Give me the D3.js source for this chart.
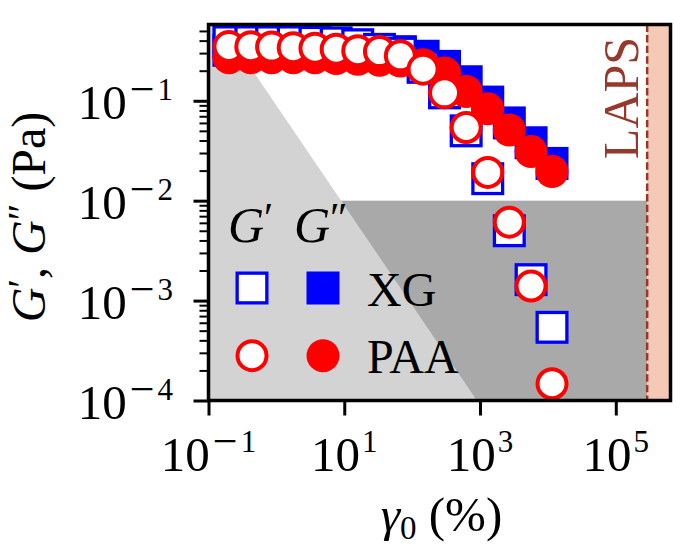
<!DOCTYPE html>
<html>
<head>
<meta charset="utf-8">
<script src="https://cdn.jsdelivr.net/npm/d3@7"></script>
<style>
  html, body { margin: 0; padding: 0; background: #fff; }
  svg { display: block; }
</style>
</head>
<body>
<svg id="chart"></svg>
<script>
// Amplitude sweep — G' and G'' against strain for XG and PAA, log-log.

// ─── Data ─────────────────────────────────────────────────────────────────────
const strain     = [0.2, 0.42, 0.85, 1.77, 3.7, 7.6, 15.8, 33, 67, 145, 300, 625, 1300, 2700, 5650, 11500];
const xgStorage  = [0.39, 0.39, 0.39, 0.39, 0.385, 0.38, 0.364, 0.327, 0.30, 0.216, 0.12, 0.050, 0.0166, 0.0050, 0.00162, 0.00054];
const xgLoss     = [0.32, 0.32, 0.32, 0.32, 0.32, 0.32, 0.32, 0.32, 0.31, 0.279, 0.221, 0.155, 0.097, 0.060, 0.038, 0.0236];
const paaStorage = [0.35, 0.348, 0.345, 0.34, 0.336, 0.328, 0.317, 0.311, 0.282, 0.207, 0.12, 0.054, 0.0192, 0.0061, 0.0014, 0.000147];
const paaLoss    = [0.27, 0.27, 0.27, 0.27, 0.27, 0.265, 0.26, 0.255, 0.25, 0.23, 0.19, 0.124, 0.083, 0.051, 0.031, 0.0196];

const xTickExps = [-1, 1, 3, 5];
const yTickExps = [-4, -3, -2, -1];

const xDomain     = [0.1, 6.4e5];
const yDomain     = [1e-4, 0.58];
const lapsStrain  = 2.9e5;   // LAPS limit
const gammaG      = 0.09;    // light region: G < gammaG / strain
const lowModulus  = 0.01;    // dark region: G < lowModulus

const legendRows = ['XG', 'PAA'];

// ─── Layout ───────────────────────────────────────────────────────────────────
const W = 696, H = 555;
const M = { left: 208.5, right: 696 - 670.5, top: 24.5, bottom: 555 - 400.5 };
const FONT = "'Liberation Serif', 'DejaVu Serif', serif";

const svg = d3.select('#chart').attr('width', W).attr('height', H);

const x = d3.scaleLog().domain(xDomain).range([M.left, W - M.right]);
const y = d3.scaleLog().domain(yDomain).range([H - M.bottom, M.top]);

svg.append('defs').append('clipPath').attr('id', 'plot-clip')
  .append('rect')
  .attr('x', M.left).attr('y', M.top)
  .attr('width', x.range()[1] - M.left)
  .attr('height', y.range()[0] - M.top);

const plot = svg.append('g').attr('clip-path', 'url(#plot-clip)');

// ─── Shaded regions ───────────────────────────────────────────────────────────
plot.append('rect')
  .attr('x', x(xDomain[0]))
  .attr('y', y(lowModulus))
  .attr('width', x(lapsStrain) - x(xDomain[0]))
  .attr('height', y(yDomain[0]) - y(lowModulus))
  .attr('fill', '#a9a9a9');

const lightPoly = [
  [xDomain[0], yDomain[0]],
  [xDomain[0], yDomain[1]],
  [gammaG / yDomain[1], yDomain[1]],
  [gammaG / yDomain[0], yDomain[0]]
];
plot.append('path')
  .attr('d', d3.line().x(d => x(d[0])).y(d => y(d[1]))(lightPoly) + 'Z')
  .attr('fill', '#d3d3d3');

plot.append('rect')
  .attr('x', x(lapsStrain))
  .attr('y', M.top)
  .attr('width', x(xDomain[1]) - x(lapsStrain))
  .attr('height', y.range()[0] - M.top)
  .attr('fill', '#f4c9b6');

plot.append('line')
  .attr('x1', x(lapsStrain)).attr('x2', x(lapsStrain))
  .attr('y1', M.top).attr('y2', y.range()[0])
  .attr('stroke', '#9c3529')
  .attr('stroke-width', 2.5)
  .attr('stroke-dasharray', '7.4,3.2');

svg.append('text')
  .attr('transform', `translate(638,98) rotate(-90)`)
  .attr('text-anchor', 'middle')
  .attr('font-family', FONT)
  .attr('font-size', 50)
  .attr('fill', '#96382b')
  .text('LAPS');

// ─── Markers ──────────────────────────────────────────────────────────────────
function drawMarker(sel, shape, color, filled) {
  if (shape === 'square') {
    const s = filled ? 33 : 29.7;
    sel.append('rect')
      .attr('x', -s / 2).attr('y', -s / 2)
      .attr('width', s).attr('height', s)
      .attr('fill', filled ? color : '#fff')
      .attr('stroke', filled ? 'none' : color)
      .attr('stroke-width', 3.3);
  } else {
    sel.append('circle')
      .attr('r', filled ? 16.5 : 14.5)
      .attr('fill', filled ? color : '#fff')
      .attr('stroke', filled ? 'none' : color)
      .attr('stroke-width', 4);
  }
}

const series = [
  { values: xgLoss,     shape: 'square', color: '#0000ff', filled: true  },
  { values: xgStorage,  shape: 'square', color: '#0000ff', filled: false },
  { values: paaLoss,    shape: 'circle', color: '#ff0000', filled: true  },
  { values: paaStorage, shape: 'circle', color: '#ff0000', filled: false }
];

series.forEach(s => {
  plot.append('g')
    .selectAll('g')
    .data(s.values.map((v, i) => ({ xv: strain[i], yv: v })))
    .join('g')
    .attr('transform', d => `translate(${x(d.xv)},${y(d.yv)})`)
    .each(function () { drawMarker(d3.select(this), s.shape, s.color, s.filled); });
});

// ─── Legend ───────────────────────────────────────────────────────────────────
const legCols = [252, 323];
const legRowY = [288, 355.7];

const header = svg.append('text')
  .attr('font-family', FONT).attr('font-size', 50)
  .attr('y', 242);
header.append('tspan').attr('x', 228).attr('font-style', 'italic').text('G');
header.append('tspan').attr('font-size', 42).attr('dy', -10).text('′');
header.append('tspan').attr('x', 294).attr('dy', 10).attr('font-style', 'italic').text('G');
header.append('tspan').attr('font-size', 42).attr('dy', -10).text('″');

legendRows.forEach((name, r) => {
  const shape = r === 0 ? 'square' : 'circle';
  const color = r === 0 ? '#0000ff' : '#ff0000';
  drawMarker(svg.append('g').attr('transform', `translate(${legCols[0]},${legRowY[r]})`), shape, color, false);
  drawMarker(svg.append('g').attr('transform', `translate(${legCols[1]},${legRowY[r]})`), shape, color, true);
  svg.append('text')
    .attr('x', 367).attr('y', legRowY[r] + 17.5)
    .attr('font-family', FONT).attr('font-size', 48)
    .text(name);
});

// ─── Axes ─────────────────────────────────────────────────────────────────────
const isDecade = v => Math.abs(Math.log10(v) - Math.round(Math.log10(v))) < 1e-6;

const xAxis = svg.append('g')
  .attr('transform', `translate(0,${y.range()[0]})`)
  .call(d3.axisBottom(x).tickValues(xTickExps.map(e => 10 ** e)).tickSize(15).tickFormat(''));

const yMinor = svg.append('g')
  .attr('transform', `translate(${M.left},0)`)
  .call(d3.axisLeft(y).tickValues(y.ticks().filter(v => !isDecade(v))).tickSize(9).tickFormat(''));

const yAxis = svg.append('g')
  .attr('transform', `translate(${M.left},0)`)
  .call(d3.axisLeft(y).tickValues(yTickExps.map(e => 10 ** e)).tickSize(15).tickFormat(''));

[xAxis, yAxis, yMinor].forEach(g => {
  g.select('.domain').remove();
  g.selectAll('.tick line').attr('stroke', '#000').attr('stroke-width', 3);
});
yMinor.selectAll('.tick line').attr('stroke-width', 2);

// 10^e with a wide math-style minus in the exponent
function powerLabel(sel, exp) {
  sel.append('tspan').text('10');
  if (exp < 0) {
    sel.append('tspan').attr('font-size', 44).attr('dx', 3).attr('dy', -15).text('−');
    sel.append('tspan').attr('font-size', 31).attr('dx', 3).attr('dy', -4).text(Math.abs(exp));
  } else {
    sel.append('tspan').attr('font-size', 31).attr('dx', 2).attr('dy', -19).text(exp);
  }
}

xTickExps.forEach(e => {
  svg.append('text')
    .attr('x', x(10 ** e)).attr('y', 470.5)
    .attr('text-anchor', 'middle')
    .attr('font-family', FONT).attr('font-size', 49)
    .call(powerLabel, e);
});

yTickExps.forEach(e => {
  svg.append('text')
    .attr('x', 173).attr('y', y(10 ** e) + 18.5)
    .attr('text-anchor', 'end')
    .attr('font-family', FONT).attr('font-size', 49)
    .call(powerLabel, e);
});

// axis titles
const xTitle = svg.append('text')
  .attr('x', (M.left + x.range()[1]) / 2 + 2).attr('y', 531)
  .attr('text-anchor', 'middle')
  .attr('font-family', FONT).attr('font-size', 49);
xTitle.append('tspan').attr('font-style', 'italic').text('γ');
xTitle.append('tspan').attr('font-size', 33).attr('dy', 8).text('0');
xTitle.append('tspan').attr('dy', -8).text(' (%)');

const yTitle = svg.append('text')
  .attr('transform', `translate(45,217) rotate(-90)`)
  .attr('text-anchor', 'middle')
  .attr('font-family', FONT).attr('font-size', 48);
yTitle.append('tspan').attr('font-style', 'italic').text('G');
yTitle.append('tspan').attr('font-size', 40).attr('dy', -10).text('′');
yTitle.append('tspan').attr('dy', 10).text(', ');
yTitle.append('tspan').attr('font-style', 'italic').text('G');
yTitle.append('tspan').attr('font-size', 40).attr('dy', -10).text('″');
yTitle.append('tspan').attr('dy', 10).text(' (Pa)');

// ─── Frame ────────────────────────────────────────────────────────────────────
svg.append('rect')
  .attr('x', M.left).attr('y', M.top)
  .attr('width', x.range()[1] - M.left)
  .attr('height', y.range()[0] - M.top)
  .attr('fill', 'none')
  .attr('stroke', '#000')
  .attr('stroke-width', 3.5);
</script>
</body>
</html>
